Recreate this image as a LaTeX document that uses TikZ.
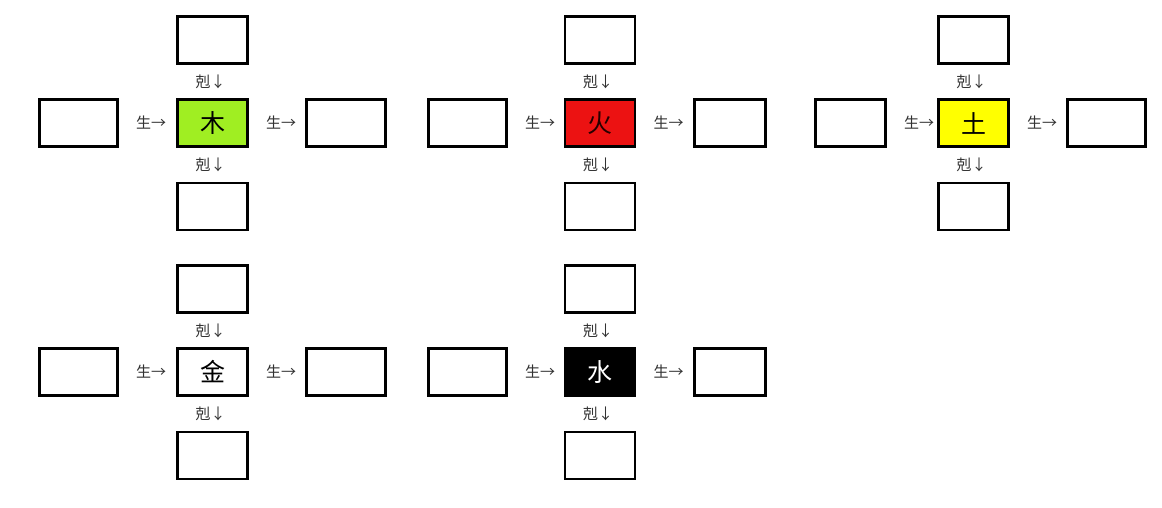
\documentclass[tikz,border=0pt]{standalone}
\usepackage{fontspec}
\newfontfamily\cjk{Noto Sans CJK SC}
\definecolor{wood}{RGB}{160,238,34}
\definecolor{fire}{RGB}{236,18,18}
\definecolor{earth}{RGB}{255,255,0}
\definecolor{lblgray}{RGB}{50,50,50}
\tikzset{
  ebox/.style={draw=black, line width=2.8pt, fill=white, minimum width=70pt, minimum height=47pt, inner sep=0pt},
  cbox/.style={ebox, font=\cjk\fontsize{25}{25}\selectfont},
  lbl/.style={font=\cjk\fontsize{15}{15}\selectfont, text=lblgray, inner sep=0pt},
}
% #1 name, #2 cx, #3 cy, #4 left cx, #5 left w, #6 right cx, #7 right w, #8 char, #9 style
\newcommand\wxgroup[9]{%
  \node[cbox,#9] (#1c) at (#2,#3) {#8};
  \node[ebox] (#1t) at (#2,#3-83) {};
  \node[ebox] (#1b) at (#2,#3+83.5) {};
  \node[ebox,minimum width=#5-3] (#1l) at (#4,#3) {};
  \node[ebox,minimum width=#7-3] (#1r) at (#6,#3) {};
  \node[lbl] (#1kt) at (#2-2,#3-41) {剋↓};
  \node[lbl] (#1kb) at (#2-2,#3+42) {剋↓};
  \node[lbl] (#1sl) at (#4+#5/2+32,#3) {生→};
  \node[lbl] (#1sr) at (#2+68.5,#3) {生→};
}
\begin{document}
\begin{tikzpicture}[x=1pt,y=-1pt]
  \useasboundingbox[fill=white] (0,0) rectangle (1162,507);
  \wxgroup{mu}{212.5}{123}{78.5}{81}{346}{82}{木}{fill=wood}
  \wxgroup{huo}{600}{123}{467.5}{81}{730}{74}{火}{fill=fire,text=black!85!red}
  \wxgroup{tu}{973.5}{123}{850.5}{73}{1106.5}{81}{土}{fill=earth}
  \wxgroup{jin}{212.5}{372}{78.5}{81}{346}{82}{金}{fill=white}
  \wxgroup{shui}{600}{372}{467.5}{81}{730}{74}{水}{fill=black,text=white}
\end{tikzpicture}
\end{document}
